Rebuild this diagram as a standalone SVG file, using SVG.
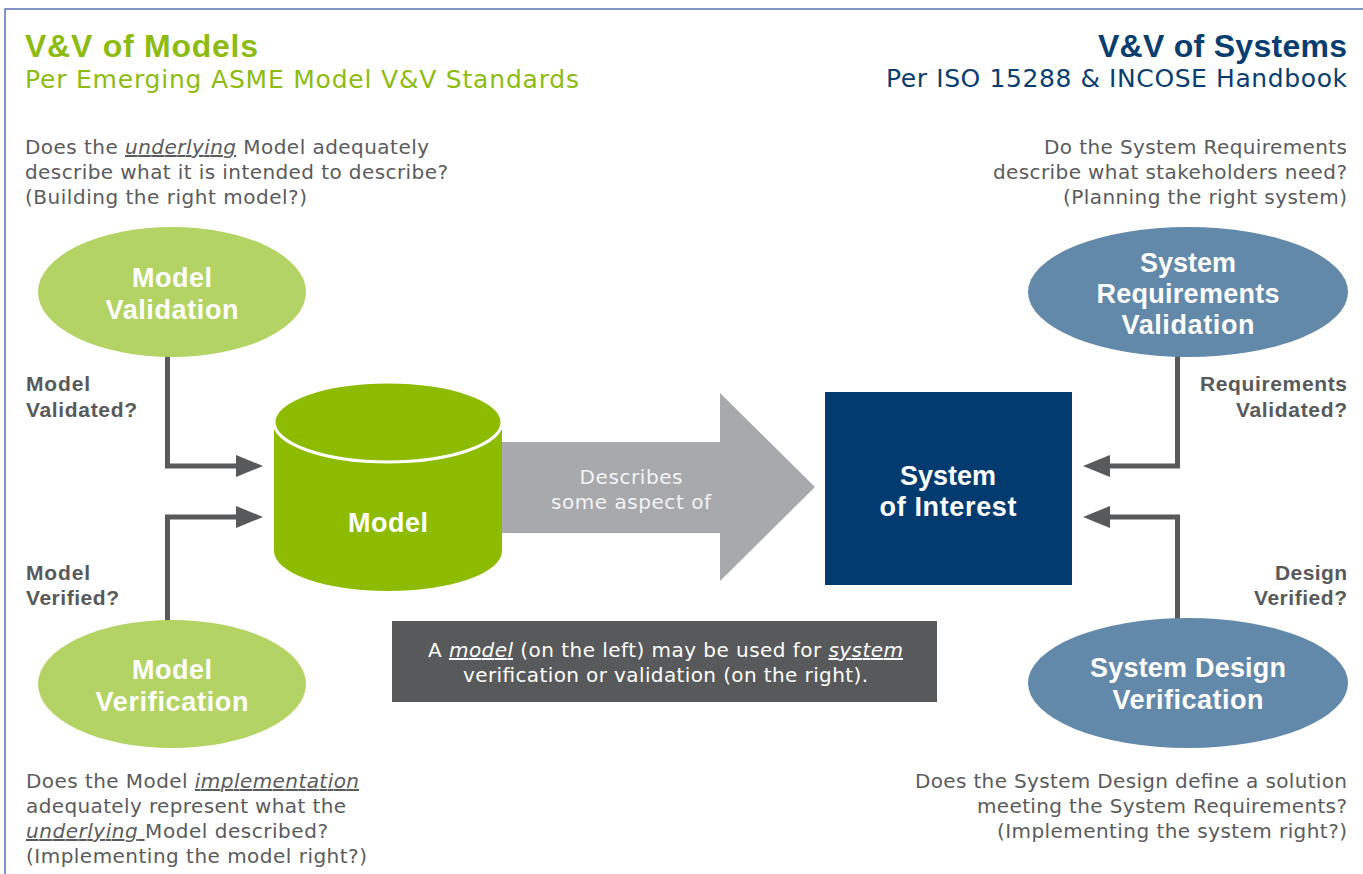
<svg xmlns="http://www.w3.org/2000/svg" width="1363" height="874" viewBox="0 0 1363 874">
  <style>
    .reg { font-family: "DejaVu Sans", "Noto Sans", sans-serif; }
    .bold { font-family: "Liberation Sans", Arial, sans-serif; font-weight: bold; }
    .green { fill: #8cbb12; }
    .navy { fill: #0a3d70; }
    .q { fill: #5a5b5d; font-size: 20px; }
    .lbl { fill: #58595b; font-size: 21px; }
    .nodeTxt { fill: #ffffff; font-size: 27px; }
    .conn { fill: none; stroke: #58595b; stroke-width: 5; stroke-linejoin: miter; }
    .u { font-style: italic; text-decoration: underline; }
  </style>
  <defs>
    <marker id="head" markerUnits="userSpaceOnUse" markerWidth="27" markerHeight="22" viewBox="0 0 27 22" refX="1" refY="11" orient="auto">
      <path d="M0,0 L27,11 L0,22 Z" fill="#58595b"/>
    </marker>
  </defs>

  <!-- frame -->
  <rect width="1363" height="874" fill="#ffffff"/>
  <path d="M5,874 V9 H1363" fill="none" stroke="#5a72b2" stroke-width="1.5"/>

  <!-- headings -->
  <g id="heading-models">
    <text class="bold green" x="25" y="57" font-size="32" textLength="233">V&amp;V of Models</text>
    <text class="reg green" x="25" y="88" font-size="25" textLength="554">Per Emerging ASME Model V&amp;V Standards</text>
  </g>
  <g id="heading-systems" text-anchor="end">
    <text class="bold navy" x="1347" y="57" font-size="32" textLength="249">V&amp;V of Systems</text>
    <text class="reg navy" x="1347" y="87" font-size="25" textLength="461">Per ISO 15288 &amp; INCOSE Handbook</text>
  </g>

  <!-- questions -->
  <g id="question-model-validation" class="reg q">
    <text x="25" y="154" textLength="404">Does the <tspan class="u">underlying</tspan> Model adequately</text>
    <text x="25" y="179" textLength="423">describe what it is intended to describe?</text>
    <text x="25" y="204" textLength="282">(Building the right model?)</text>
  </g>
  <g id="question-requirements-validation" class="reg q" text-anchor="end">
    <text x="1347" y="154" textLength="303">Do the System Requirements</text>
    <text x="1347" y="179" textLength="354">describe what stakeholders need?</text>
    <text x="1347" y="204" textLength="284">(Planning the right system)</text>
  </g>
  <g id="question-model-verification" class="reg q">
    <text x="26" y="788" textLength="333">Does the Model <tspan class="u">implementation</tspan></text>
    <text x="26" y="813" textLength="320">adequately represent what the</text>
    <text x="26" y="838" textLength="302"><tspan class="u">underlying </tspan>Model described?</text>
    <text x="26" y="863" textLength="341">(Implementing the model right?)</text>
  </g>
  <g id="question-design-verification" class="reg q" text-anchor="end">
    <text x="1347" y="788" textLength="432">Does the System Design define a solution</text>
    <text x="1347" y="813" textLength="370">meeting the System Requirements?</text>
    <text x="1347" y="838" textLength="350">(Implementing the system right?)</text>
  </g>

  <!-- connectors -->
  <g id="connectors">
    <path class="conn" d="M167.5,356 V466 H237" marker-end="url(#head)"/>
    <path class="conn" d="M167.5,621 V517 H237" marker-end="url(#head)"/>
    <path class="conn" d="M1177.5,356 V466 H1109" marker-end="url(#head)"/>
    <path class="conn" d="M1177.5,619 V517 H1109" marker-end="url(#head)"/>
  </g>

  <!-- connector labels -->
  <g id="label-model-validated" class="bold lbl">
    <text x="26" y="391" textLength="64">Model</text>
    <text x="26" y="417" textLength="111">Validated?</text>
  </g>
  <g id="label-model-verified" class="bold lbl">
    <text x="26" y="580" textLength="64">Model</text>
    <text x="26" y="605" textLength="93">Verified?</text>
  </g>
  <g id="label-requirements-validated" class="bold lbl" text-anchor="end">
    <text x="1347" y="391" textLength="147">Requirements</text>
    <text x="1347" y="417" textLength="111">Validated?</text>
  </g>
  <g id="label-design-verified" class="bold lbl" text-anchor="end">
    <text x="1347" y="580" textLength="72">Design</text>
    <text x="1347" y="605" textLength="93">Verified?</text>
  </g>

  <!-- describes arrow -->
  <g id="describes-arrow">
    <polygon points="500,442 720,442 720,393 815,487 720,581 720,533 500,533" fill="#a7a9ac"/>
    <text class="reg" x="631" y="484" font-size="20" fill="#f4f4f4" text-anchor="middle" textLength="103">Describes</text>
    <text class="reg" x="631" y="509" font-size="20" fill="#f4f4f4" text-anchor="middle" textLength="160">some aspect of</text>
  </g>

  <!-- model cylinder -->
  <g id="model">
    <path d="M274,422 V551 A114,40 0 0 0 502,551 V422 Z" fill="#8cbb00"/>
    <ellipse cx="388" cy="422" rx="114" ry="40" fill="#8cbb00" stroke="#ffffff" stroke-width="3"/>
    <text class="bold nodeTxt" x="388" y="532" text-anchor="middle" textLength="80">Model</text>
  </g>

  <!-- system of interest -->
  <g id="system-of-interest">
    <rect x="825" y="392" width="247" height="193" fill="#023b70"/>
    <text class="bold nodeTxt" x="948" y="485" text-anchor="middle" textLength="96">System</text>
    <text class="bold nodeTxt" x="948" y="516" text-anchor="middle" textLength="137">of Interest</text>
  </g>

  <!-- ellipses -->
  <g id="model-validation">
    <ellipse cx="172" cy="292" rx="134" ry="65" fill="#b3d465"/>
    <text class="bold nodeTxt" x="172" y="287" text-anchor="middle" textLength="80">Model</text>
    <text class="bold nodeTxt" x="172" y="319" text-anchor="middle" textLength="133">Validation</text>
  </g>
  <g id="model-verification">
    <ellipse cx="172" cy="684" rx="134" ry="64" fill="#b3d465"/>
    <text class="bold nodeTxt" x="172" y="679" text-anchor="middle" textLength="80">Model</text>
    <text class="bold nodeTxt" x="172" y="711" text-anchor="middle" textLength="153">Verification</text>
  </g>
  <g id="system-requirements-validation">
    <ellipse cx="1188" cy="292" rx="160" ry="65" fill="#6288aa"/>
    <text class="bold nodeTxt" x="1188" y="272" text-anchor="middle" textLength="96">System</text>
    <text class="bold nodeTxt" x="1188" y="303" text-anchor="middle" textLength="183">Requirements</text>
    <text class="bold nodeTxt" x="1188" y="334" text-anchor="middle" textLength="133">Validation</text>
  </g>
  <g id="system-design-verification">
    <ellipse cx="1188" cy="683" rx="160" ry="65" fill="#6288aa"/>
    <text class="bold nodeTxt" x="1188" y="677" text-anchor="middle" textLength="196">System Design</text>
    <text class="bold nodeTxt" x="1188" y="709" text-anchor="middle" textLength="151">Verification</text>
  </g>

  <!-- note -->
  <g id="note">
    <rect x="392" y="621" width="545" height="81" fill="#58595b"/>
    <text class="reg" x="665.5" y="657" font-size="20" fill="#ffffff" text-anchor="middle" textLength="475">A <tspan class="u">model</tspan> (on the left) may be used for <tspan class="u">system</tspan></text>
    <text class="reg" x="665.5" y="682" font-size="20" fill="#ffffff" text-anchor="middle" textLength="405">verification or validation (on the right).</text>
  </g>
</svg>
